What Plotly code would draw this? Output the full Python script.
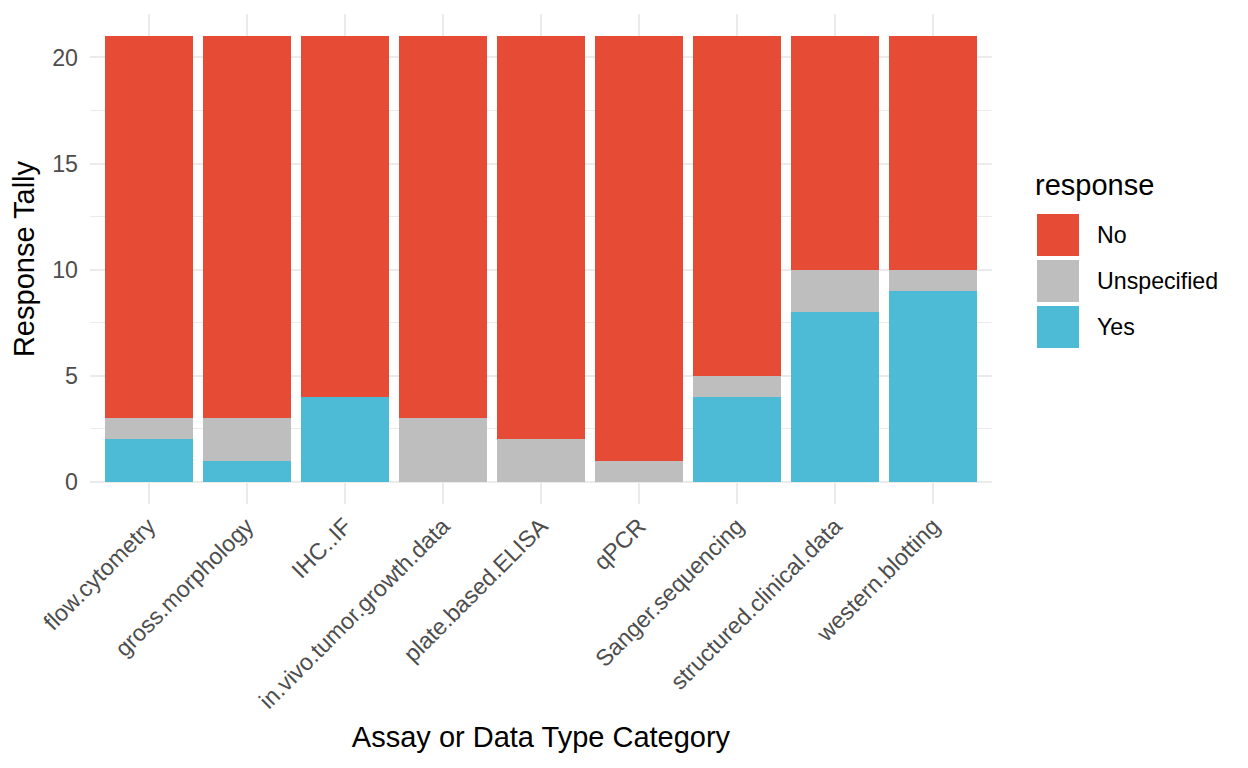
import plotly.graph_objects as go

categories = [
    "flow.cytometry", "gross.morphology", "IHC..IF", "in.vivo.tumor.growth.data",
    "plate.based.ELISA", "qPCR", "Sanger.sequencing", "structured.clinical.data",
    "western.blotting",
]
yes_counts = [2, 1, 4, 0, 0, 0, 4, 8, 9]
unspecified_counts = [1, 2, 0, 3, 2, 1, 1, 2, 1]
no_counts = [18, 18, 17, 18, 19, 20, 16, 11, 11]

series = [
    ("Yes", yes_counts, "#4DBBD5"),
    ("Unspecified", unspecified_counts, "#BEBEBE"),
    ("No", no_counts, "#E64B35"),
]

fig = go.Figure()
for name, vals, color in series:
    fig.add_trace(go.Bar(x=categories, y=vals, name=name,
                         marker=dict(color=color, line=dict(width=0)),
                         showlegend=False))

grid = "#EBEBEB"
fig.update_layout(
    barmode="stack",
    bargap=0.1,
    width=1240, height=760,
    # page has an 8px body margin, so panel lands at x 90..992, y 14..504
    margin=dict(l=82, r=256, t=6, b=264),
    plot_bgcolor="white", paper_bgcolor="white",
    font=dict(family="Liberation Sans, Arial, sans-serif", color="#4D4D4D", size=23),
    xaxis=dict(
        range=[-0.6, 8.6], showgrid=True, gridcolor=grid, gridwidth=1.6,
        tickangle=-45, tickfont=dict(size=23.2, color="#4D4D4D"),
        ticks="", zeroline=False, showline=False, automargin=False,
        ticklabelstandoff=3,
        title=dict(text="Assay or Data Type Category", font=dict(size=29, color="black"), standoff=14),
    ),
    yaxis=dict(
        range=[-1.05, 22.05], tickvals=[0, 5, 10, 15, 20],
        showgrid=True, gridcolor=grid, gridwidth=1.6,
        minor=dict(tickvals=[2.5, 7.5, 12.5, 17.5], showgrid=True, gridcolor=grid, gridwidth=0.8),
        tickfont=dict(size=23.2, color="#4D4D4D"), ticks="", zeroline=False, showline=False,
        automargin=False, ticklabelstandoff=11,
        title=dict(text="Response Tally", font=dict(size=29, color="black"), standoff=9),
    ),
)

# manual legend in ggplot style (page pixel -> paper coords)
def px_x(p):
    return (p - 90) / 902

def px_y(p):
    return (504 - p) / 490

fig.add_annotation(x=px_x(1035), y=px_y(185), xref="paper", yref="paper",
                   text="response", showarrow=False, xanchor="left", yanchor="middle",
                   xshift=-2, font=dict(size=29, color="black"))
legend_items = [("No", "#E64B35"), ("Unspecified", "#BEBEBE"), ("Yes", "#4DBBD5")]
for i, (name, color) in enumerate(legend_items):
    top = 214 + i * 46
    fig.add_shape(type="rect", xref="paper", yref="paper",
                  x0=px_x(1037), x1=px_x(1079), y0=px_y(top + 42), y1=px_y(top),
                  fillcolor=color, line=dict(width=0))
    fig.add_annotation(x=px_x(1097), y=px_y(top + 21), xref="paper", yref="paper",
                       text=name, showarrow=False, xanchor="left", yanchor="middle",
                       xshift=-2, font=dict(size=23.2, color="black"))

fig.write_html("out.html")
